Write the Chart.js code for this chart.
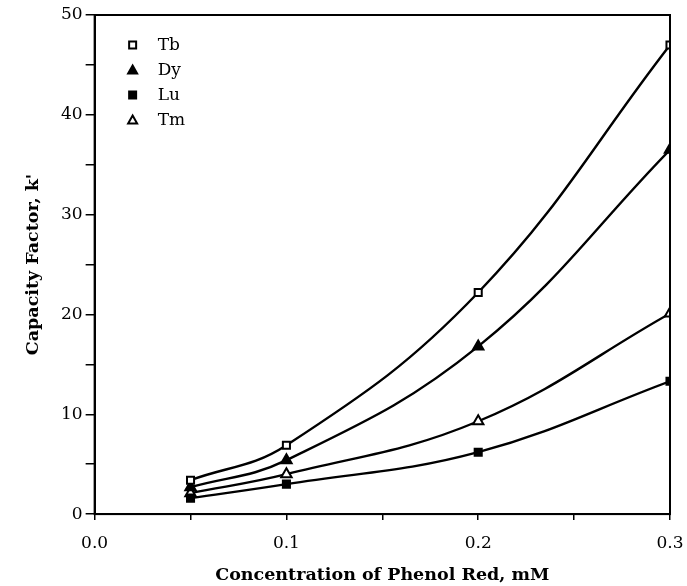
<!DOCTYPE html>
<html>
<head>
<meta charset="utf-8">
<script src="https://cdn.jsdelivr.net/npm/chart.js@4.4.1/dist/chart.umd.min.js"></script>
<style>
  html, body { margin: 0; padding: 0; background: #fff; }
  #wrap { width: 687px; height: 586px; }
</style>
</head>
<body>
<div id="wrap"><canvas id="kChart" width="687" height="586"></canvas></div>
<script>
// phenol red concentration (mM) and capacity factors
const concentrations = [0.05, 0.1, 0.2, 0.3];
const tbValues = [3.4, 6.9, 22.2, 47.0];
const dyValues = [2.7, 5.4, 16.8, 36.5];
const luValues = [1.6, 3.0, 6.2, 13.3];
const tmValues = [2.1, 4.0, 9.3, 20.1];
const seriesNames = ["Tb", "Dy", "Lu", "Tm"];

const serif = "'DejaVu Serif', 'Liberation Serif', serif";

function pairs(values) {
  return concentrations.map((c, i) => ({ x: c, y: values[i] }));
}

function makeSet(label, values, style, filled) {
  return {
    label: label,
    data: pairs(values),
    borderColor: "#000",
    borderWidth: 2.4,
    backgroundColor: filled ? "#000" : "#fff",
    pointStyle: style,
    pointRadius: style === "triangle" ? 6 : 5,
    pointBorderWidth: 2,
    pointBorderColor: "#000",
    pointBackgroundColor: filled ? "#000" : "#fff",
    tension: 0.4,
    fill: false,
  };
}

// box around the plot area plus the legend in its upper left corner
const framePlugin = {
  id: "frame",
  afterDraw(chart) {
    const ctx = chart.ctx;
    const a = chart.chartArea;
    ctx.save();
    ctx.strokeStyle = "#000";
    ctx.lineWidth = 2;
    ctx.strokeRect(a.left, a.top, a.right - a.left, a.bottom - a.top);

    ctx.font = "17px " + serif;
    ctx.textBaseline = "middle";
    chart.data.datasets.forEach((ds, i) => {
      const mx = a.left + 38;
      const my = a.top + 30 + i * 25;
      ctx.fillStyle = ds.pointBackgroundColor;
      ctx.strokeStyle = "#000";
      ctx.lineWidth = 2;
      ctx.beginPath();
      if (ds.pointStyle === "rect") {
        ctx.rect(mx - 3.5, my - 3.5, 7, 7);
      } else {
        ctx.moveTo(mx, my - 4.5);
        ctx.lineTo(mx + 4.5, my + 3.5);
        ctx.lineTo(mx - 4.5, my + 3.5);
        ctx.closePath();
      }
      ctx.fill();
      ctx.stroke();
      ctx.fillStyle = "#000";
      ctx.fillText(ds.label, a.left + 63, my + 1);
    });
    ctx.restore();
  },
};

const chart = new Chart(document.getElementById("kChart"), {
  type: "line",
  data: {
    datasets: [
      makeSet(seriesNames[0], tbValues, "rect", false),
      makeSet(seriesNames[1], dyValues, "triangle", true),
      makeSet(seriesNames[2], luValues, "rect", true),
      makeSet(seriesNames[3], tmValues, "triangle", false),
    ],
  },
  options: {
    responsive: false,
    animation: false,
    layout: { padding: { top: 15, right: 17, left: 23, bottom: 2 } },
    plugins: { legend: { display: false }, tooltip: { enabled: false } },
    scales: {
      x: {
        type: "linear",
        min: 0,
        max: 0.3,
        // the "0.3" label may hang into the right margin
        afterFit: (scale) => { scale.paddingRight = 0; },
        border: { color: "#000", width: 2 },
        grid: { drawOnChartArea: false, color: "#000", tickLength: 6, lineWidth: 1.5 },
        ticks: {
          stepSize: 0.05,
          color: "#000",
          font: { family: serif, size: 17 },
          padding: 13,
          maxRotation: 0,
          callback: (v) => {
            const k = Math.round(v * 100);
            return k % 10 === 0 ? (v).toFixed(1) : "";
          },
        },
        title: {
          display: true,
          text: "Concentration of Phenol Red, mM",
          color: "#000",
          font: { family: serif, size: 17.5, weight: "bold", lineHeight: 1 },
          padding: { top: 0, bottom: 0 },
        },
      },
      y: {
        min: 0,
        max: 50,
        border: { color: "#000", width: 2 },
        grid: { drawOnChartArea: false, color: "#000", tickLength: 9, lineWidth: 1.5 },
        ticks: {
          stepSize: 5,
          color: "#000",
          font: { family: serif, size: 17 },
          padding: 3,
          callback: (v) => (v % 10 === 0 ? String(v) : ""),
        },
        title: {
          display: true,
          text: "Capacity Factor, k'",
          color: "#000",
          font: { family: serif, size: 17.5, weight: "bold", lineHeight: 1.2 },
          padding: { top: 0, bottom: 14 },
        },
      },
    },
  },
  plugins: [framePlugin],
});
</script>
</body>
</html>
